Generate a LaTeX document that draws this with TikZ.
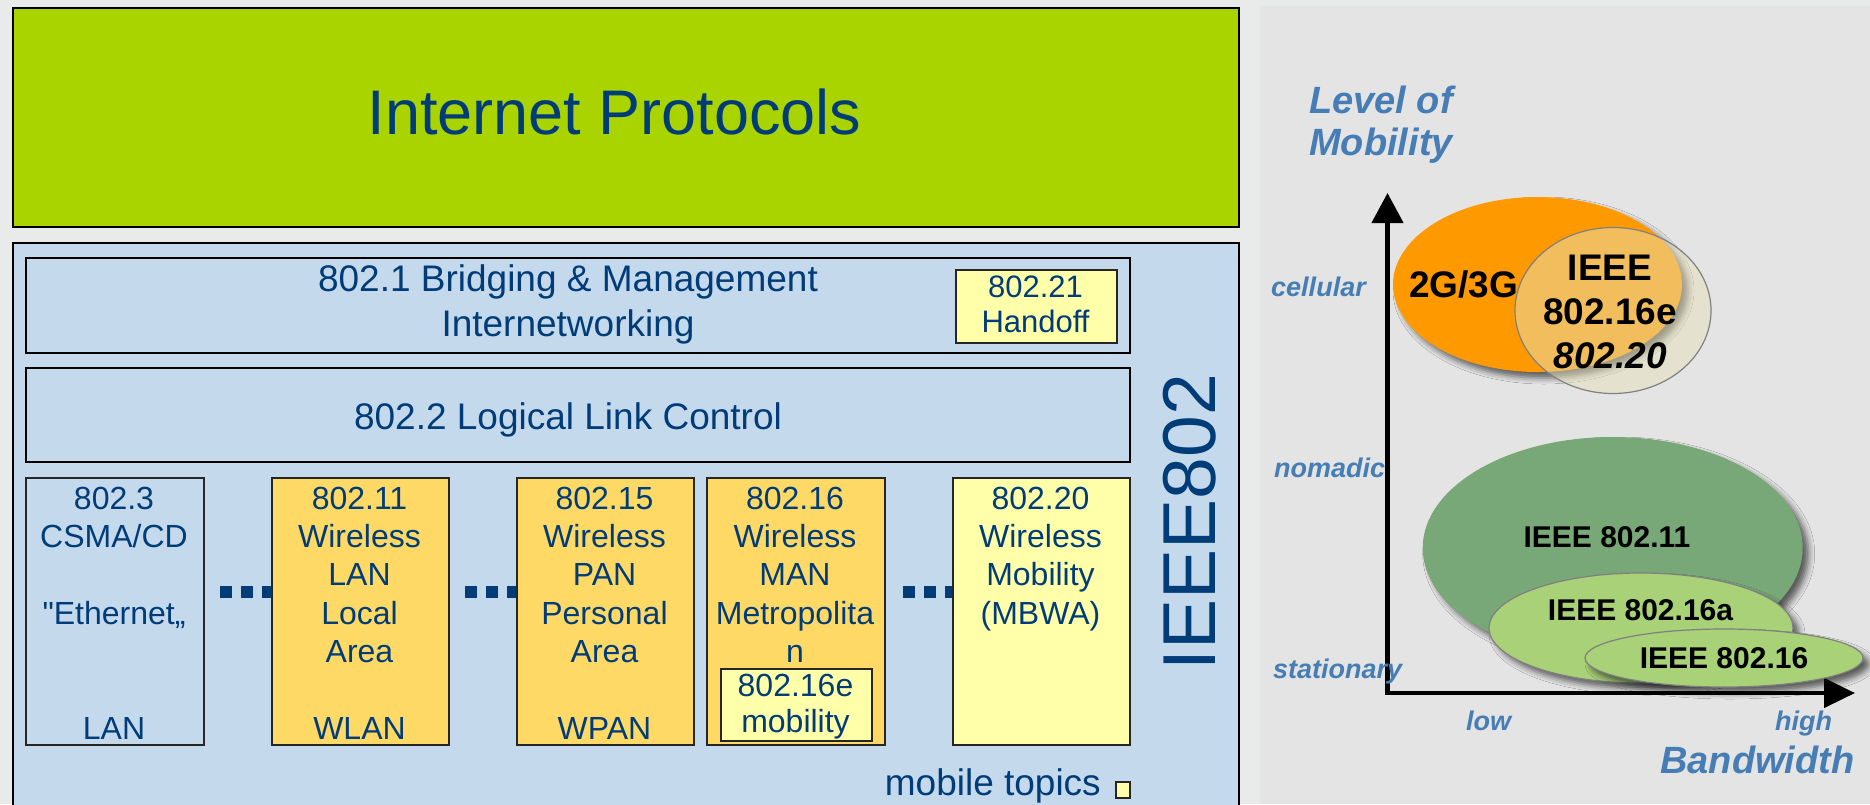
\documentclass[tikz,border=0pt]{standalone}
\usepackage{fontspec}
\setmainfont{Liberation Sans}[Ligatures=TeXOff]
\usetikzlibrary{shapes.geometric,arrows.meta,shadows.blur}
\definecolor{bgc}{RGB}{233,234,234}
\definecolor{panel}{RGB}{228,228,228}
\definecolor{ipgreen}{RGB}{170,212,0}
\definecolor{lblue}{RGB}{197,217,237}
\definecolor{ybox}{RGB}{255,217,102}
\definecolor{lyel}{RGB}{255,255,170}
\definecolor{navy}{RGB}{0,60,120}
\definecolor{axlab}{RGB}{70,125,180}
\definecolor{orng}{RGB}{255,153,0}
\definecolor{cream}{RGB}{229,225,186}
\definecolor{dgreen}{RGB}{120,168,120}
\definecolor{lgreen}{RGB}{168,209,120}
\definecolor{elborder}{RGB}{128,128,128}
\begin{document}
\begin{tikzpicture}[x=1pt,y=-1pt,
  frame/.style={draw=black,line width=2pt,inner sep=0pt,anchor=north west},
  sbox/.style={draw=black!85,line width=1.5pt,inner sep=0pt,anchor=north west},
  btxt/.style={text=navy,align=center,inner sep=0pt,anchor=north,font=\fontsize{32}{38.3}\selectfont},
  dotrow/.style={draw=navy,line width=12pt,dash pattern=on 11.5pt off 9.5pt,line cap=butt},
  axis/.style={line width=4.5pt,arrows={Triangle[length=30pt,width=31pt]-Triangle[length=31pt,width=29pt]}},
  ell/.style={ellipse,inner sep=0pt},
  shd/.style={blur shadow={shadow xshift=6pt,shadow yshift=-6pt,shadow blur radius=6pt,shadow opacity=60}},
  eltxt/.style={inner sep=0pt,anchor=base,font=\fontsize{37}{44}\selectfont\bfseries},
  eltxtb/.style={inner sep=0pt,anchor=base,font=\fontsize{30}{36}\selectfont\bfseries},
  labs/.style={text=axlab,inner sep=0pt,anchor=base west,font=\fontsize{27}{32}\selectfont\bfseries\itshape},
  labl/.style={text=axlab,inner sep=0pt,font=\fontsize{38}{42}\selectfont\bfseries\itshape}
]
\useasboundingbox (0,0) rectangle (1870,804);
\clip (0,0) rectangle (1870,804);
\fill[bgc] (0,0) rectangle (1870,804);
\fill[panel] (1260,6) rectangle (1870,804);

% Internet protocols
\node[frame,fill=ipgreen,minimum width=1226pt,minimum height=219pt] (ip) at (12,7) {};
\node[inner sep=0pt,anchor=base,text=navy,font=\fontsize{63}{76}\selectfont] (ipt) at (614.5,134) {Internet Protocols};

% IEEE 802 box
\node[frame,fill=lblue,minimum width=1226pt,minimum height=600pt] (ieee) at (12,242) {};
\node[frame,fill=lblue,minimum width=1104pt,minimum height=95pt] (b1) at (25,257) {};
\node[btxt,font=\fontsize{37}{45}\selectfont] (t1) at (568,259.5) {\strut 802.1 Bridging \& Management\\Internetworking};
\node[sbox,fill=lyel,minimum width=161pt,minimum height=73pt] (ho) at (955,269) {};
\node[btxt,font=\fontsize{31}{35}\selectfont] (tho) at (1035.5,272.5) {\strut 802.21\\Handoff};
\node[frame,fill=lblue,minimum width=1104pt,minimum height=94pt] (b2) at (25,367) {};
\node[inner sep=0pt,anchor=base,text=navy,font=\fontsize{37}{45}\selectfont] (t2) at (568,429) {802.2 Logical Link Control};

\node[sbox,fill=lblue,minimum width=178pt,minimum height=267pt] (b3) at (25,477) {};
\node[sbox,fill=ybox,minimum width=177pt,minimum height=267pt] (b11) at (271,477) {};
\node[sbox,fill=ybox,minimum width=177pt,minimum height=267pt] (b15) at (516,477) {};
\node[sbox,fill=ybox,minimum width=178pt,minimum height=267pt] (b16) at (706,477) {};
\node[sbox,fill=lyel,minimum width=151pt,minimum height=72pt] (b16e) at (720,668) {};
\node[sbox,fill=lyel,minimum width=177pt,minimum height=267pt] (b20) at (952,477) {};

\node[btxt] (t3) at (114,482.2) {\strut 802.3\\CSMA/CD\\\strut\\"Ethernet„\\\strut\\\strut\\LAN};
\node[btxt] (t11) at (359.5,482.2) {\strut 802.11\\Wireless\\LAN\\Local\\Area\\\strut\\WLAN};
\node[btxt] (t15) at (604.5,482.2) {\strut 802.15\\Wireless\\PAN\\Personal\\Area\\\strut\\WPAN};
\node[btxt] (t16) at (795,482.2) {\strut 802.16\\Wireless\\MAN\\Metropolita\\n};
\node[btxt,font=\fontsize{32}{36}\selectfont] (t16e) at (795.5,670.8) {\strut 802.16e\\mobility};
\node[btxt] (t20) at (1040.5,482.2) {\strut 802.20\\Wireless\\Mobility\\(MBWA)};

\coordinate (d1) at (220,592);
\coordinate (d2) at (465,592);
\coordinate (d3) at (903,592);
\draw[dotrow] (d1) -- (b11.west |- d1);
\draw[dotrow] (d2) -- (b15.west |- d2);
\draw[dotrow] (d3) -- (b20.west |- d3);

\node[inner sep=0pt,anchor=base east,text=navy,font=\fontsize{37}{44}\selectfont] (mt) at (1101,795) {mobile topics};
\node[sbox,fill=lyel,minimum width=14pt,minimum height=16pt] (leg) at (1115,781) {};

\node[inner sep=0pt,rotate=90,text=navy,font=\fontsize{75}{90}\selectfont] (i802) at (1190,522) {IEEE802};

% chart
\coordinate (O) at (1387.5,693);
\coordinate (ytip) at (1387.5,193);
\coordinate (xtip) at (1855,693);
\draw[axis] (ytip) -- (O) -- (xtip);

\node[ell,fill=orng,shd,minimum width=289pt,minimum height=175pt] (e23) at (1537.5,284.5) {};
\node[ell,fill=cream,fill opacity=0.5,draw=elborder,line width=1.2pt,minimum width=196pt,minimum height=166pt] (e16e) at (1613,310.5) {};
\node[eltxt] (l23) at (1463.5,297) {2G/3G};
\node[eltxt,anchor=north,align=center] (l16e) at (1610,249.2) {\strut IEEE\\802.16e\\\textit{802.20}};

\node[ell,fill=dgreen,shd,minimum width=380pt,minimum height=222pt] (e11) at (1612.7,548) {};
\node[ell,fill=lgreen,draw=elborder,line width=1.2pt,shd,minimum width=304pt,minimum height=110pt] (e16a) at (1641,628) {};
\node[ell,fill=lgreen,draw=elborder,line width=1.2pt,shd,minimum width=278pt,minimum height=58pt] (e16) at (1724,658) {};
\node[eltxtb] (l11) at (1607,547) {IEEE 802.11};
\node[eltxtb] (l16a) at (1640.5,620) {IEEE 802.16a};
\node[eltxtb] (l16) at (1724,668) {IEEE 802.16};

\node[labl,anchor=north west,align=left] (lvl) at (1309,83.6) {\strut Level of\\Mobility};
\node[labs] (cel) at (1271,296) {cellular};
\node[labs] (nom) at (1274,477) {nomadic};
\node[labs] (sta) at (1273,678) {stationary};
\node[labs] (low) at (1466,730) {low};
\node[labs] (high) at (1775,730) {high};
\node[labl,anchor=base west] (bw) at (1660,773) {Bandwidth};
\end{tikzpicture}
\end{document}
